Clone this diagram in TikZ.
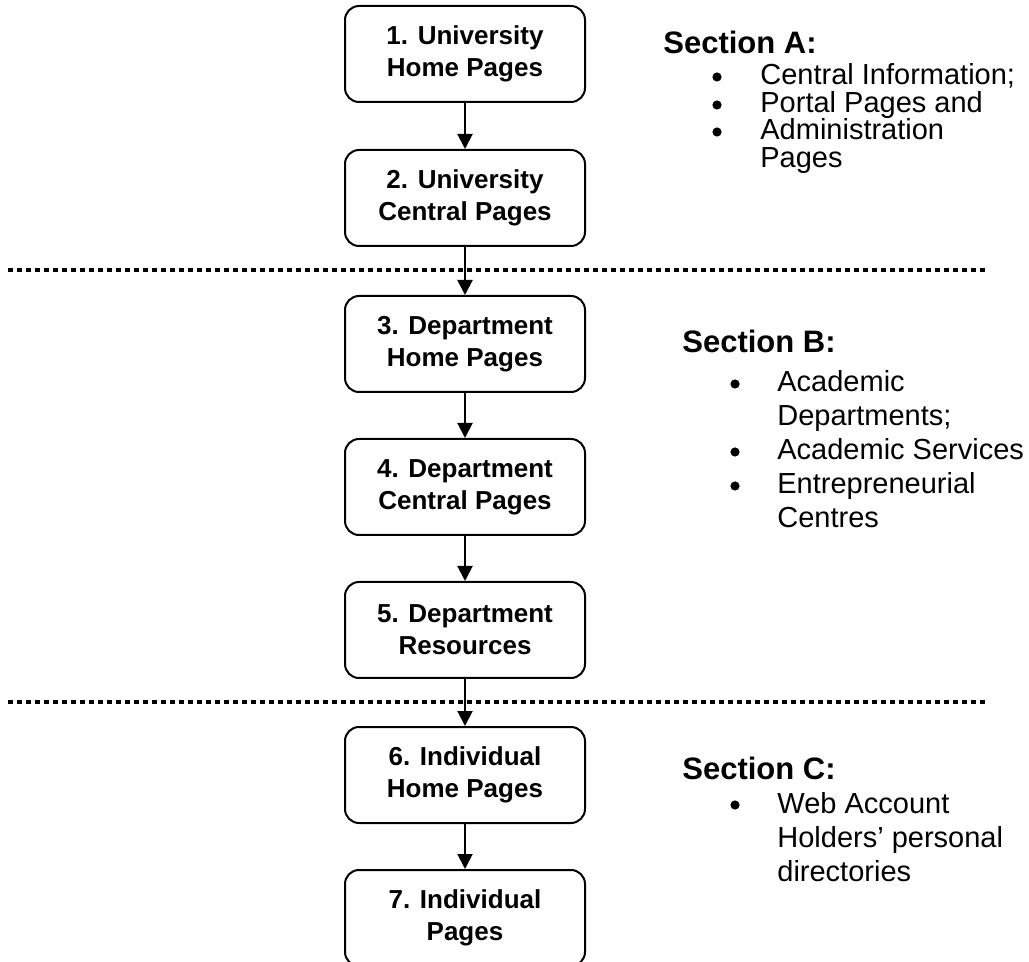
\documentclass[tikz,border=0pt]{standalone}
\usepackage{fontspec}
\setmainfont{Liberation Sans}
\usetikzlibrary{arrows.meta,positioning}

\begin{document}
\begin{tikzpicture}[x=0.5pt,y=-0.5pt,
  level/.style={draw,line width=1pt,rounded corners=7pt,minimum width=120pt,minimum height=48pt,
    inner sep=0pt,align=center,font=\fontsize{13}{16}\selectfont\bfseries},
  flow/.style={-{Triangle[length=7.5pt,width=7.5pt]},line width=1pt},
  divider/.style={line width=2pt,dash pattern=on 2.5pt off 2pt},
  heading/.style={anchor=base west,inner sep=0pt,font=\fontsize{15.5}{18}\selectfont\bfseries},
  dot/.style={circle,fill,inner sep=0pt,minimum size=4.6pt},
  entry/.style={anchor=base west,inner sep=0pt,align=left,font=\fontsize{14.5}{#1}\selectfont}]
  \useasboundingbox (0,0) rectangle (1029,962);

  \node[level] (uhome)    at (465,54)  {1. University\\Home Pages};
  \node[level] (ucentral) at (465,198) {2. University\\Central Pages};
  \node[level] (dhome)    at (465,344) {3. Department\\Home Pages};
  \node[level] (dcentral) at (465,487) {4. Department\\Central Pages};
  \node[level] (dres)     at (465,630) {5. Department\\Resources};
  \node[level] (ihome)    at (465,775) {6. Individual\\Home Pages};
  \node[level] (ipages)   at (465,918) {7. Individual\\Pages};

  \coordinate (cutAl) at (8,270);
  \coordinate (cutAr) at (987,270);
  \coordinate (cutBl) at (8,702);
  \coordinate (cutBr) at (987,702);
  \draw[divider] (cutAl) -- (cutAr);
  \draw[divider] (cutBl) -- (cutBr);

  \draw[flow] (uhome) -- (ucentral);
  \draw[flow] (ucentral) -- (dhome);
  \draw[flow] (dhome) -- (dcentral);
  \draw[flow] (dcentral) -- (dres);
  \draw[flow] (dres) -- (ihome);
  \draw[flow] (ihome) -- (ipages);

  \node[heading] (secA) at (663,54) {Section A:};
  \node[dot] (dotA1) at (717,77)  {};
  \node[entry=17] (itemA1) at (760,85)  {Central Information;};
  \node[dot] (dotA2) at (717,105) {};
  \node[entry=17] (itemA2) at (760,113) {Portal Pages and};
  \node[dot] (dotA3) at (717,132) {};
  \node[entry=14] (itemA3) at (760,168) {Administration\\Pages};

  \node[heading] (secB) at (682,353) {Section B:};
  \node[dot] (dotB1) at (735,384) {};
  \node[entry=17] (itemB1) at (777,426) {Academic\\Departments;};
  \node[dot] (dotB2) at (735,452) {};
  \node[entry=17] (itemB2) at (777,460) {Academic Services};
  \node[dot] (dotB3) at (735,486) {};
  \node[entry=17] (itemB3) at (777,528) {Entrepreneurial\\Centres};

  \node[heading] (secC) at (682,779) {Section C:};
  \node[dot] (dotC1) at (735,805) {};
  \node[entry=17] (itemC1) at (777,881) {Web Account\\Holders’ personal\\directories};
\end{tikzpicture}
\end{document}
